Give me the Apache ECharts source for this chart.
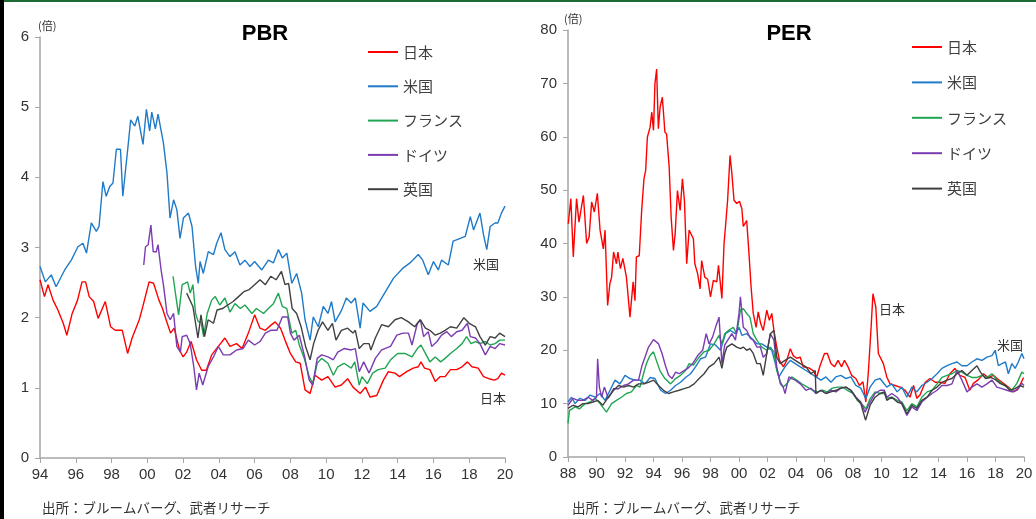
<!DOCTYPE html>
<html lang="ja">
<head>
<meta charset="UTF-8">
<title>PBR / PER</title>
<script src="https://cdn.jsdelivr.net/npm/echarts@6/dist/echarts.min.js"></script>
<style>
  html, body { margin: 0; padding: 0; background: #fff; }
  #main { width: 1036px; height: 519px; }
</style>
</head>
<body>
<div id="main"></div>
<script>
// 系列名
var names = ['日本', '米国', 'フランス', 'ドイツ', '英国'];
var colors = ['#ff0000', '#1f7ac8', '#20a552', '#7a3cb0', '#404040'];

// PBR (年, 倍)
var pbrJapan = [[1994.0,2.54],[1994.25,2.30],[1994.45,2.47],[1994.73,2.25],[1995.0,2.11],[1995.3,1.92],[1995.5,1.75],[1995.8,2.06],[1996.1,2.25],[1996.35,2.51],[1996.55,2.51],[1996.75,2.30],[1997.0,2.23],[1997.25,1.99],[1997.65,2.23],[1997.95,1.87],[1998.2,1.82],[1998.6,1.82],[1998.9,1.49],[1999.15,1.71],[1999.55,1.97],[1999.75,2.16],[2000.1,2.51],[2000.35,2.49],[2000.65,2.25],[2000.85,2.13],[2001.05,1.97],[2001.3,1.78],[2001.5,1.85],[2001.8,1.54],[2002.0,1.44],[2002.2,1.51],[2002.45,1.66],[2002.75,1.40],[2003.04,1.25],[2003.3,1.25],[2003.6,1.47],[2003.97,1.59],[2004.34,1.71],[2004.62,1.59],[2004.99,1.63],[2005.3,1.56],[2005.65,1.78],[2006.0,2.04],[2006.3,1.85],[2006.6,1.82],[2006.9,1.89],[2007.15,1.94],[2007.45,1.85],[2007.7,1.68],[2008.0,1.49],[2008.3,1.37],[2008.55,1.35],[2008.82,0.97],[2009.1,0.92],[2009.38,1.18],[2009.75,1.11],[2010.1,1.16],[2010.5,1.01],[2010.85,1.04],[2011.2,1.13],[2011.5,1.01],[2011.9,0.92],[2012.2,1.01],[2012.45,0.87],[2012.83,0.89],[2013.2,1.11],[2013.48,1.23],[2013.85,1.21],[2014.1,1.16],[2014.5,1.23],[2014.87,1.28],[2015.15,1.30],[2015.3,1.37],[2015.5,1.28],[2015.8,1.26],[2016.1,1.09],[2016.38,1.16],[2016.65,1.16],[2016.95,1.26],[2017.3,1.26],[2017.6,1.30],[2017.9,1.37],[2018.15,1.30],[2018.5,1.28],[2018.8,1.16],[2019.1,1.13],[2019.4,1.11],[2019.6,1.13],[2019.8,1.21],[2020.0,1.18]];
var pbrUS = [[1994.0,2.73],[1994.3,2.51],[1994.63,2.61],[1994.9,2.44],[1995.38,2.68],[1995.75,2.82],[1996.12,3.01],[1996.4,3.06],[1996.6,2.92],[1996.87,3.35],[1997.15,3.23],[1997.3,3.30],[1997.52,3.94],[1997.7,3.73],[1997.9,3.87],[1998.08,3.92],[1998.27,4.40],[1998.5,4.40],[1998.63,3.73],[1998.92,4.44],[1999.07,4.82],[1999.3,4.73],[1999.47,4.87],[1999.76,4.47],[1999.95,4.97],[2000.13,4.66],[2000.25,4.93],[2000.45,4.69],[2000.6,4.90],[2000.9,4.49],[2001.1,4.06],[2001.27,3.42],[2001.47,3.68],[2001.65,3.54],[2001.83,3.13],[2002.02,3.42],[2002.3,3.49],[2002.5,3.30],[2002.7,2.73],[2002.85,2.49],[2002.95,2.80],[2003.13,2.63],[2003.41,2.94],[2003.7,2.90],[2003.88,3.06],[2004.12,3.21],[2004.34,2.97],[2004.62,2.87],[2004.9,2.94],[2005.18,2.75],[2005.46,2.82],[2005.74,2.73],[2006.0,2.80],[2006.4,2.68],[2006.77,2.82],[2007.05,2.78],[2007.33,2.97],[2007.55,2.85],[2007.8,2.92],[2008.08,2.49],[2008.35,2.63],[2008.63,2.35],[2008.82,1.97],[2009.1,1.68],[2009.28,2.01],[2009.56,1.87],[2009.84,2.16],[2010.1,2.06],[2010.3,2.23],[2010.5,1.94],[2010.85,2.10],[2011.13,2.28],[2011.4,2.21],[2011.63,2.28],[2011.9,1.85],[2012.06,2.21],[2012.45,2.09],[2012.83,2.16],[2013.2,2.32],[2013.76,2.56],[2014.31,2.71],[2014.69,2.78],[2015.15,2.90],[2015.4,2.82],[2015.71,2.61],[2016.0,2.80],[2016.27,2.68],[2016.45,2.82],[2016.83,2.75],[2017.1,3.09],[2017.5,3.13],[2017.78,3.16],[2018.06,3.44],[2018.24,3.25],[2018.6,3.49],[2018.8,3.18],[2018.98,2.97],[2019.17,3.30],[2019.44,3.35],[2019.6,3.35],[2019.8,3.49],[2020.0,3.59]];
var pbrFrance = [[2001.44,2.59],[2001.6,2.30],[2001.75,2.04],[2001.95,2.47],[2002.1,2.49],[2002.25,2.51],[2002.4,2.35],[2002.55,2.47],[2002.7,2.06],[2002.85,1.94],[2003.0,1.94],[2003.15,1.73],[2003.35,2.06],[2003.6,2.25],[2003.8,2.30],[2004.05,2.18],[2004.34,2.28],[2004.62,2.08],[2004.9,2.20],[2005.2,2.13],[2005.46,2.18],[2005.85,2.06],[2006.1,2.13],[2006.5,2.06],[2006.77,2.13],[2007.05,2.20],[2007.33,2.35],[2007.55,2.16],[2007.8,2.13],[2008.08,1.78],[2008.3,1.82],[2008.5,1.61],[2008.8,1.40],[2009.05,1.16],[2009.25,1.06],[2009.5,1.35],[2009.75,1.42],[2010.1,1.35],[2010.4,1.18],[2010.65,1.30],[2011.0,1.35],[2011.4,1.28],[2011.6,1.37],[2011.85,1.04],[2012.0,1.16],[2012.3,1.06],[2012.6,1.21],[2012.9,1.26],[2013.3,1.28],[2013.6,1.40],[2014.0,1.49],[2014.4,1.49],[2014.8,1.44],[2015.1,1.56],[2015.3,1.61],[2015.55,1.49],[2015.8,1.37],[2016.1,1.44],[2016.4,1.37],[2016.65,1.42],[2016.95,1.49],[2017.3,1.56],[2017.6,1.63],[2017.85,1.73],[2018.1,1.63],[2018.35,1.66],[2018.6,1.63],[2018.9,1.66],[2019.17,1.61],[2019.45,1.63],[2019.7,1.68],[2020.0,1.68]];
var pbrGermany = [[1999.8,2.75],[1999.9,3.01],[2000.05,3.04],[2000.2,3.32],[2000.33,2.94],[2000.5,2.94],[2000.6,3.04],[2000.77,2.68],[2000.9,2.47],[2001.1,2.06],[2001.28,1.97],[2001.47,2.06],[2001.65,1.59],[2001.85,1.51],[2001.95,1.73],[2002.2,1.75],[2002.4,1.63],[2002.6,1.30],[2002.75,0.97],[2002.9,1.21],[2003.1,1.04],[2003.4,1.30],[2003.7,1.44],[2003.97,1.59],[2004.25,1.47],[2004.62,1.47],[2004.99,1.54],[2005.35,1.56],[2005.65,1.68],[2006.0,1.61],[2006.3,1.66],[2006.6,1.78],[2006.9,1.82],[2007.25,1.82],[2007.55,2.01],[2007.85,2.01],[2008.0,1.78],[2008.2,1.68],[2008.5,1.75],[2008.8,1.44],[2009.05,1.11],[2009.25,1.04],[2009.5,1.42],[2009.75,1.47],[2010.1,1.44],[2010.4,1.40],[2010.65,1.51],[2011.0,1.56],[2011.4,1.54],[2011.63,1.56],[2011.85,1.23],[2012.1,1.37],[2012.4,1.21],[2012.75,1.42],[2013.1,1.54],[2013.6,1.59],[2013.95,1.75],[2014.3,1.78],[2014.6,1.78],[2014.8,1.61],[2015.1,1.92],[2015.27,1.97],[2015.45,1.73],[2015.71,1.80],[2015.9,1.59],[2016.2,1.66],[2016.45,1.75],[2016.75,1.80],[2017.0,1.73],[2017.3,1.80],[2017.6,1.82],[2017.9,1.92],[2018.06,1.73],[2018.35,1.71],[2018.6,1.63],[2018.9,1.47],[2019.17,1.59],[2019.45,1.56],[2019.7,1.63],[2020.0,1.61]];
var pbrUK = [[2002.2,2.35],[2002.55,2.16],[2002.83,1.71],[2003.0,2.04],[2003.2,1.73],[2003.4,1.97],[2003.7,1.92],[2003.9,2.11],[2004.2,2.13],[2004.5,2.18],[2004.8,2.23],[2005.1,2.30],[2005.4,2.37],[2005.7,2.40],[2006.0,2.47],[2006.3,2.54],[2006.6,2.47],[2006.9,2.59],[2007.2,2.54],[2007.5,2.66],[2007.7,2.47],[2007.9,2.49],[2008.1,2.13],[2008.35,2.06],[2008.6,1.87],[2008.85,1.59],[2009.1,1.40],[2009.3,1.63],[2009.55,1.82],[2009.8,1.94],[2010.1,1.82],[2010.35,1.92],[2010.55,1.68],[2010.85,1.82],[2011.2,1.85],[2011.5,1.78],[2011.63,1.82],[2011.85,1.56],[2012.1,1.63],[2012.4,1.63],[2012.5,1.54],[2012.75,1.71],[2013.1,1.90],[2013.48,1.87],[2013.85,1.97],[2014.2,2.00],[2014.6,1.94],[2014.95,1.87],[2015.27,1.97],[2015.55,1.85],[2015.8,1.82],[2016.1,1.75],[2016.38,1.78],[2016.65,1.82],[2016.95,1.87],[2017.3,1.85],[2017.7,2.00],[2018.0,1.92],[2018.35,1.87],[2018.6,1.73],[2018.9,1.61],[2019.17,1.73],[2019.45,1.71],[2019.7,1.78],[2020.0,1.73]];

// PER (年, 倍)
var perJapan = [[1988.02,43.7],[1988.2,48.4],[1988.37,37.5],[1988.6,48.4],[1988.77,44.0],[1989.08,49.0],[1989.31,40.0],[1989.48,41.2],[1989.66,47.8],[1989.85,45.9],[1990.06,49.4],[1990.25,42.5],[1990.48,39.0],[1990.6,42.5],[1990.78,28.4],[1990.94,32.5],[1991.06,33.7],[1991.2,38.4],[1991.4,36.2],[1991.5,38.4],[1991.68,35.3],[1991.85,37.2],[1992.1,33.7],[1992.35,26.2],[1992.57,32.8],[1992.7,29.3],[1992.8,37.5],[1993.0,37.7],[1993.17,46.2],[1993.33,52.1],[1993.45,53.7],[1993.57,59.9],[1993.76,61.8],[1993.88,64.6],[1994.0,61.2],[1994.1,69.9],[1994.22,72.7],[1994.34,61.5],[1994.46,65.5],[1994.62,67.4],[1994.8,60.9],[1994.92,60.5],[1995.1,54.3],[1995.24,44.9],[1995.4,38.7],[1995.52,41.8],[1995.68,49.9],[1995.87,46.2],[1996.03,52.1],[1996.17,48.1],[1996.33,36.2],[1996.5,42.5],[1996.8,40.9],[1996.9,36.2],[1997.1,34.3],[1997.27,31.5],[1997.38,36.8],[1997.6,33.7],[1997.8,33.3],[1998.0,30.0],[1998.2,33.1],[1998.44,32.8],[1998.56,35.9],[1998.68,32.8],[1998.8,29.7],[1998.95,40.0],[1999.05,43.1],[1999.2,48.1],[1999.37,56.5],[1999.5,53.1],[1999.65,48.1],[1999.84,47.5],[2000.03,47.9],[2000.2,46.5],[2000.3,43.2],[2000.54,44.3],[2000.7,38.1],[2000.85,31.8],[2001.0,26.9],[2001.2,24.3],[2001.35,27.2],[2001.52,25.0],[2001.7,23.7],[2001.95,27.5],[2002.13,25.6],[2002.3,26.9],[2002.45,23.7],[2002.65,20.6],[2002.84,18.1],[2003.12,16.9],[2003.35,18.1],[2003.6,20.3],[2003.8,19.0],[2004.05,18.5],[2004.3,18.7],[2004.5,16.9],[2004.9,16.7],[2005.2,16.2],[2005.45,15.0],[2005.7,17.2],[2006.0,19.4],[2006.2,19.4],[2006.45,17.5],[2006.7,16.9],[2006.95,18.1],[2007.2,16.9],[2007.4,18.1],[2007.65,16.9],[2007.9,15.3],[2008.2,14.7],[2008.45,13.4],[2008.7,14.1],[2008.9,10.3],[2009.07,15.6],[2009.27,24.3],[2009.4,30.6],[2009.6,28.1],[2009.78,19.4],[2010.13,17.5],[2010.37,15.0],[2010.6,13.7],[2010.95,13.4],[2011.3,13.1],[2011.66,12.5],[2012.0,11.2],[2012.25,13.4],[2012.48,11.0],[2012.7,11.6],[2013.07,14.0],[2013.4,14.7],[2013.77,14.0],[2014.1,14.0],[2014.45,13.8],[2014.8,15.6],[2015.15,16.6],[2015.5,15.3],[2015.86,14.9],[2016.2,12.5],[2016.45,13.8],[2016.8,14.5],[2017.15,15.6],[2017.5,14.9],[2017.85,15.3],[2018.2,14.5],[2018.55,13.8],[2018.9,13.1],[2019.27,12.2],[2019.6,12.8],[2019.97,14.9]];
var perUS = [[1988.0,10.3],[1988.25,11.2],[1988.5,10.0],[1988.83,11.0],[1989.2,10.6],[1989.55,11.6],[1989.9,11.2],[1990.25,11.9],[1990.6,10.6],[1990.95,12.5],[1991.3,14.4],[1991.65,13.7],[1992.0,15.3],[1992.35,14.7],[1992.7,14.4],[1993.05,14.4],[1993.4,13.7],[1993.77,14.9],[1994.1,14.7],[1994.5,12.5],[1994.85,11.9],[1995.2,12.5],[1995.55,13.4],[1995.9,14.0],[1996.25,14.9],[1996.6,15.6],[1996.95,16.9],[1997.3,18.4],[1997.65,18.7],[1998.0,21.2],[1998.35,21.0],[1998.7,20.0],[1999.05,23.1],[1999.4,23.7],[1999.75,23.1],[2000.0,24.3],[2000.2,22.8],[2000.54,23.1],[2000.9,22.2],[2001.25,21.2],[2001.6,21.2],[2001.95,20.6],[2002.3,20.0],[2002.55,17.5],[2002.8,15.0],[2003.0,15.9],[2003.23,16.9],[2003.6,18.1],[2003.95,17.5],[2004.3,16.9],[2004.7,16.2],[2005.05,15.6],[2005.4,15.0],[2005.75,14.4],[2006.1,15.0],[2006.45,14.0],[2006.8,15.0],[2007.15,15.3],[2007.5,14.7],[2007.85,15.0],[2008.2,13.4],[2008.55,12.9],[2008.9,10.9],[2009.2,13.1],[2009.55,14.4],[2009.9,14.7],[2010.1,14.0],[2010.37,13.1],[2010.72,13.7],[2011.1,12.2],[2011.43,13.1],[2011.78,11.2],[2012.13,13.1],[2012.48,12.2],[2012.83,13.4],[2013.2,14.0],[2013.55,14.7],[2013.9,15.6],[2014.24,16.6],[2014.6,17.1],[2014.94,17.5],[2015.3,17.8],[2015.64,17.1],[2016.0,17.1],[2016.34,17.8],[2016.7,18.4],[2017.05,18.1],[2017.4,18.7],[2017.75,19.0],[2017.98,20.0],[2018.2,17.1],[2018.45,17.5],[2018.7,17.8],[2018.9,15.6],[2019.15,17.5],[2019.38,16.6],[2019.6,17.8],[2019.85,19.4],[2020.0,18.4]];
var perFrance = [[1988.0,6.3],[1988.1,8.7],[1988.5,9.4],[1988.8,9.0],[1989.2,10.0],[1989.55,10.3],[1989.9,11.0],[1990.25,10.0],[1990.7,8.4],[1991.06,10.0],[1991.4,10.6],[1991.75,11.2],[1992.1,11.9],[1992.45,12.2],[1992.8,13.4],[1993.05,13.1],[1993.3,15.6],[1993.5,17.5],[1993.75,19.0],[1994.0,19.7],[1994.2,18.1],[1994.45,16.2],[1994.8,14.7],[1995.2,13.7],[1995.55,14.7],[1995.9,15.3],[1996.25,16.2],[1996.5,17.5],[1996.8,17.2],[1997.2,18.7],[1997.55,19.7],[1997.9,20.0],[1998.25,21.2],[1998.6,22.8],[1998.8,21.2],[1999.0,23.1],[1999.25,23.7],[1999.6,24.3],[1999.84,23.1],[2000.1,27.5],[2000.3,27.8],[2000.54,26.9],[2000.77,26.2],[2001.0,23.1],[2001.25,21.9],[2001.6,20.6],[2001.95,20.0],[2002.2,20.6],[2002.45,19.7],[2002.65,16.2],[2002.9,14.1],[2003.1,13.1],[2003.35,13.7],[2003.7,15.0],[2004.05,14.4],[2004.4,13.7],[2004.8,13.1],[2005.15,12.5],[2005.5,12.2],[2005.9,12.5],[2006.2,12.2],[2006.55,12.9],[2006.9,13.1],[2007.27,13.1],[2007.6,12.5],[2008.0,11.9],[2008.3,10.6],[2008.7,9.7],[2008.9,9.0],[2009.2,10.9],[2009.55,12.2],[2009.9,11.9],[2010.2,11.9],[2010.37,11.0],[2010.72,11.2],[2011.1,10.6],[2011.43,10.3],[2011.78,8.7],[2012.13,10.0],[2012.48,9.4],[2012.83,11.2],[2013.2,12.2],[2013.55,12.5],[2013.9,13.7],[2014.24,14.9],[2014.6,15.3],[2014.94,15.6],[2015.3,16.2],[2015.64,15.9],[2016.0,15.3],[2016.34,14.9],[2016.7,14.9],[2017.05,15.3],[2017.4,14.9],[2017.75,15.6],[2018.1,14.5],[2018.45,13.7],[2018.8,13.1],[2019.15,12.5],[2019.5,13.8],[2019.85,15.9],[2020.0,15.6]];
var perGermany = [[1988.0,9.7],[1988.35,11.0],[1988.7,10.6],[1989.05,10.6],[1989.4,11.2],[1989.75,10.6],[1990.0,11.2],[1990.08,18.4],[1990.2,13.1],[1990.36,11.2],[1990.55,13.1],[1990.83,11.0],[1991.2,12.8],[1991.55,12.8],[1991.9,13.4],[1992.25,13.7],[1992.6,14.4],[1992.95,14.4],[1993.2,17.2],[1993.4,18.7],[1993.65,20.6],[1994.0,22.0],[1994.35,21.2],[1994.6,19.4],[1994.83,17.2],[1995.06,15.3],[1995.3,14.7],[1995.55,15.9],[1995.8,15.6],[1996.15,16.2],[1996.4,16.6],[1996.75,17.5],[1997.1,19.0],[1997.45,20.0],[1997.7,23.1],[1997.9,21.2],[1998.15,22.5],[1998.4,24.7],[1998.6,26.2],[1998.8,17.5],[1999.0,21.0],[1999.13,21.2],[1999.5,23.1],[1999.75,21.9],[2000.0,26.9],[2000.1,30.0],[2000.3,24.3],[2000.54,23.7],[2000.8,22.2],[2001.0,21.9],[2001.25,20.6],[2001.5,20.6],[2001.7,18.7],[2001.95,19.4],[2002.2,23.1],[2002.45,21.9],[2002.65,16.9],[2002.9,13.7],[2003.1,13.1],[2003.23,11.9],[2003.5,15.0],[2003.7,14.7],[2003.95,14.4],[2004.3,13.7],[2004.7,12.5],[2005.05,12.9],[2005.4,11.9],[2005.75,12.5],[2006.1,11.9],[2006.45,12.5],[2006.8,12.2],[2007.15,12.9],[2007.5,13.1],[2007.85,12.5],[2008.2,11.2],[2008.55,10.3],[2008.85,8.4],[2009.2,10.3],[2009.55,11.9],[2009.9,12.5],[2010.2,12.5],[2010.37,11.2],[2010.72,11.9],[2011.1,11.2],[2011.43,10.0],[2011.78,7.8],[2012.13,9.4],[2012.48,8.7],[2012.83,10.3],[2013.2,11.2],[2013.55,11.9],[2013.9,12.5],[2014.24,13.4],[2014.6,13.4],[2014.94,13.7],[2015.3,16.2],[2015.64,14.4],[2016.0,12.2],[2016.34,13.1],[2016.7,13.7],[2017.05,13.1],[2017.4,13.7],[2017.75,14.4],[2018.1,13.1],[2018.45,12.8],[2018.8,12.5],[2019.15,12.2],[2019.5,12.5],[2019.85,13.8],[2020.0,13.4]];
var perUK = [[1988.0,9.1],[1988.35,9.7],[1988.7,9.4],[1989.05,10.0],[1989.4,10.0],[1989.75,10.3],[1990.1,10.6],[1990.45,9.7],[1990.83,11.2],[1991.2,12.5],[1991.55,13.4],[1991.9,13.1],[1992.25,13.4],[1992.6,13.1],[1992.95,13.7],[1993.3,13.7],[1993.65,14.0],[1994.0,14.4],[1994.35,13.4],[1994.7,12.5],[1995.06,11.9],[1995.4,12.2],[1995.8,12.5],[1996.15,12.8],[1996.5,13.1],[1996.85,13.7],[1997.2,14.7],[1997.55,15.6],[1997.9,16.9],[1998.25,17.5],[1998.6,18.7],[1998.8,16.6],[1999.0,19.4],[1999.15,20.6],[1999.5,21.2],[1999.84,20.6],[2000.1,20.3],[2000.3,20.6],[2000.54,20.0],[2000.77,20.3],[2001.0,19.4],[2001.25,17.5],[2001.5,17.5],[2001.7,15.3],[2001.95,19.4],[2002.2,23.1],[2002.45,23.7],[2002.65,18.7],[2002.9,17.5],[2003.23,18.1],[2003.6,18.7],[2003.95,18.1],[2004.3,17.5],[2004.7,16.9],[2005.05,15.6],[2005.35,16.2],[2005.4,11.9],[2005.75,12.5],[2006.1,11.9],[2006.45,12.2],[2006.8,12.5],[2007.15,12.9],[2007.5,13.1],[2007.85,12.5],[2008.2,11.2],[2008.55,10.0],[2008.88,6.9],[2009.2,9.7],[2009.55,11.2],[2009.9,11.9],[2010.2,12.2],[2010.37,10.6],[2010.72,11.2],[2011.1,10.3],[2011.43,10.0],[2011.78,8.1],[2012.13,9.7],[2012.48,9.1],[2012.83,10.6],[2013.2,11.2],[2013.55,12.5],[2013.9,13.1],[2014.24,14.0],[2014.6,14.4],[2014.94,14.7],[2015.3,15.6],[2015.64,16.2],[2016.0,15.3],[2016.34,16.2],[2016.7,17.1],[2016.94,15.9],[2017.3,14.7],[2017.65,14.9],[2018.0,14.5],[2018.3,13.8],[2018.7,13.4],[2019.0,12.5],[2019.38,12.8],[2019.7,13.4],[2020.0,13.1]];

var pbrList = [pbrJapan, pbrUS, pbrFrance, pbrGermany, pbrUK];
var perList = [perJapan, perUS, perFrance, perGermany, perUK];

var font = "'Liberation Sans', 'Noto Sans CJK JP', sans-serif";
var jpFont = "'Noto Sans CJK JP', sans-serif";
var axisGray = '#a6a6a6';
var textColor = '#333';

function xAxisOf(idx, min){
	return {
		type: 'value', gridIndex: idx, min: min, max: 2020, interval: 2,
		axisLine: { lineStyle: { color: axisGray, width: 1.5 } },
		axisTick: { show: true, length: 5, lineStyle: { color: axisGray } },
		splitLine: { show: false },
		axisLabel: {
			color: textColor, fontSize: 15, fontFamily: font, margin: 9,
			formatter: function(v){ return String(v).slice(2); }
		}
	};
}
function yAxisOf(idx, max, step, pad){
	return {
		type: 'value', gridIndex: idx, min: 0, max: max, interval: step,
		name: '(倍)', nameLocation: 'end', nameGap: 6,
		nameTextStyle: { color: textColor, fontSize: 11, fontFamily: jpFont, align: 'left', padding: [0, 0, 0, pad] },
		axisLine: { show: true, lineStyle: { color: axisGray, width: 1.5 } },
		axisTick: { show: true, length: 5, lineStyle: { color: axisGray } },
		splitLine: { show: false },
		axisLabel: { color: textColor, fontSize: 15, fontFamily: font, margin: 11 }
	};
}

var series = [];
for(var i=0;i<names.length;i++){
	series.push({
		name: names[i], type: 'line', xAxisIndex: 0, yAxisIndex: 0,
		data: pbrList[i], showSymbol: false, symbol: 'none',
		lineStyle: { color: colors[i], width: 1.4 }, itemStyle: { color: colors[i] }
	});
}
for(var i=0;i<names.length;i++){
	series.push({
		name: names[i], type: 'line', xAxisIndex: 1, yAxisIndex: 1,
		data: perList[i], showSymbol: false, symbol: 'none',
		lineStyle: { color: colors[i], width: 1.4 }, itemStyle: { color: colors[i] }
	});
}

function legendOf(left, top, gap){
	return {
		data: names, orient: 'vertical', left: left, top: top,
		icon: 'rect', itemWidth: 30, itemHeight: 2, itemGap: gap,
		selectedMode: false,
		textStyle: { color: '#404040', fontSize: 15, fontFamily: jpFont, lineHeight: 16 }
	};
}

function txt(x, y, s, size, bold, align){
	return {
		type: 'text', x: x, y: y, silent: true,
		style: {
			text: s, x: 0, y: 0, fill: bold ? '#000' : textColor,
			font: (bold ? 'bold ' : '') + size + 'px ' + (bold ? "'Liberation Sans', sans-serif" : jpFont),
			textAlign: align || 'left', textVerticalAlign: 'middle'
		}
	};
}

var chart = echarts.init(document.getElementById('main'), null, { renderer: 'canvas' });
chart.setOption({
	animation: false,
	backgroundColor: '#fff',
	grid: [
		{ left: 40, top: 37, width: 465, height: 421 },
		{ left: 568, top: 30, width: 456, height: 427 }
	],
	xAxis: [ xAxisOf(0, 1994), xAxisOf(1, 1988) ],
	yAxis: [ yAxisOf(0, 6, 1, -2), yAxisOf(1, 80, 10, -4) ],
	legend: [ legendOf(363, 39, 18.3), legendOf(907, 34, 19.4) ],
	series: series,
	graphic: [
		{ type: 'rect', silent: true, shape: { x: 0, y: 0, width: 1036, height: 2 }, style: { fill: '#1d6a35' } },
		{ type: 'rect', silent: true, shape: { x: 0, y: 0, width: 4, height: 519 }, style: { fill: '#000' } },
		txt(265, 34, 'PBR', 22, true, 'center'),
		txt(789, 34, 'PER', 22, true, 'center'),
		txt(473, 264, '米国', 13),
		txt(480, 398, '日本', 13),
		txt(879, 309, '日本', 13),
		txt(997, 345, '米国', 13),
		txt(42, 508, '出所：ブルームバーグ、武者リサーチ', 13.5),
		txt(572, 508, '出所：ブルームバーグ、武者リサーチ', 13.5)
	]
});
</script>
</body>
</html>
